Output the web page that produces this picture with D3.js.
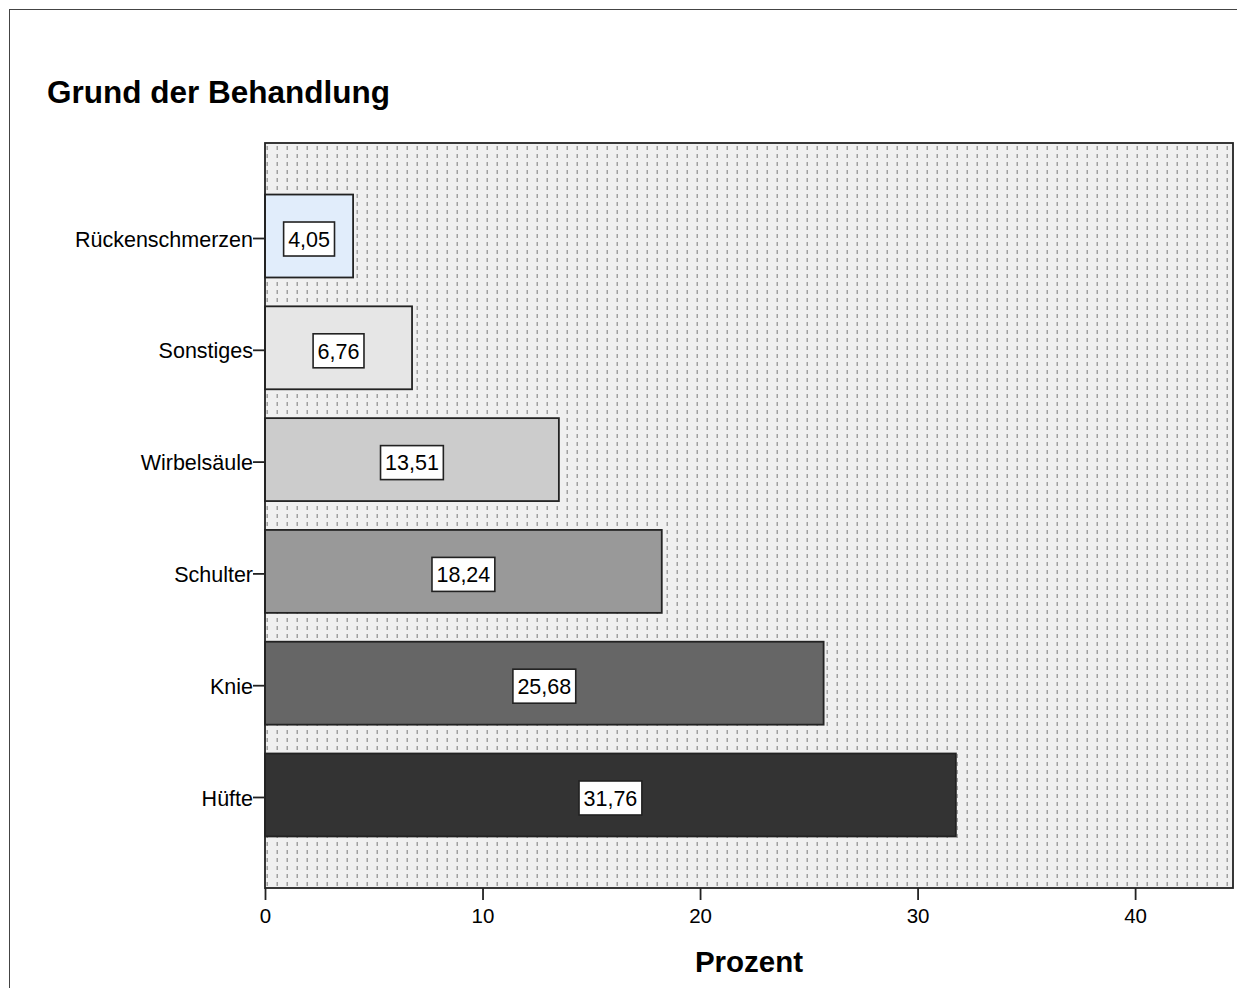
<!DOCTYPE html>
<html>
<head>
<meta charset="utf-8">
<script src="https://cdn.jsdelivr.net/npm/d3@7"></script>
<style>
  html, body { margin: 0; padding: 0; background: #fff; }
  svg { display: block; }
  text { font-family: "Liberation Sans", Arial, sans-serif; fill: #000; }
</style>
</head>
<body>
<svg id="chart" width="1237" height="988"></svg>
<script>
// Grund der Behandlung – Anteil in Prozent
const categories = ["Rückenschmerzen", "Sonstiges", "Wirbelsäule", "Schulter", "Knie", "Hüfte"];
const percentages = [4.05, 6.76, 13.51, 18.24, 25.68, 31.76];
const xTicks = [0, 10, 20, 30, 40];
const title = "Grund der Behandlung";
const xTitle = "Prozent";

// bar fills, one per category
const barFills = ["#e1edfb", "#e6e6e6", "#cccccc", "#999999", "#666666", "#333333"];

const W = 1237, H = 988;
const plot = { left: 265, right: 1233, top: 143, bottom: 888 };

const svg = d3.select("#chart");
const de = d3.formatLocale({ decimal: ",", thousands: ".", grouping: [3], currency: ["", " €"] });
const fmt = de.format(".2f");

// outer frame (continues past the right and bottom edges)
svg.append("rect")
  .attr("x", 9.5).attr("y", 9.5)
  .attr("width", W + 40).attr("height", H + 40)
  .attr("fill", "none").attr("stroke", "#444").attr("stroke-width", 1);

// dotted background pattern of the plot area
const defs = svg.append("defs");
const pat = defs.append("pattern")
  .attr("id", "dots")
  .attr("patternUnits", "userSpaceOnUse")
  .attr("x", plot.left).attr("y", plot.top + 2)
  .attr("width", 10).attr("height", 8);
pat.append("rect").attr("width", 10).attr("height", 8).attr("fill", "#f0f0f0");
pat.append("rect").attr("x", 1.5).attr("y", 1).attr("width", 1.5).attr("height", 4).attr("fill", "#a0a0a0");

const x = d3.scaleLinear().domain([0, 44.5]).range([plot.left, plot.right]);
const y = d3.scaleBand().domain(categories).range([plot.top, plot.bottom])
  .paddingInner(0.258).paddingOuter(0.461);
const color = d3.scaleOrdinal().domain(categories).range(barFills);

svg.append("rect")
  .attr("x", plot.left).attr("y", plot.top)
  .attr("width", plot.right - plot.left).attr("height", plot.bottom - plot.top)
  .attr("fill", "url(#dots)");

// bars
const rows = categories.map((c, i) => ({ cat: c, value: percentages[i] }));
svg.append("g").selectAll("rect").data(rows).join("rect")
  .attr("x", x(0))
  .attr("y", d => y(d.cat))
  .attr("width", d => x(d.value) - x(0))
  .attr("height", y.bandwidth())
  .attr("fill", d => color(d.cat))
  .attr("stroke", "#222")
  .attr("stroke-width", 1.8);

// plot border
svg.append("rect")
  .attr("x", plot.left).attr("y", plot.top)
  .attr("width", plot.right - plot.left).attr("height", plot.bottom - plot.top)
  .attr("fill", "none").attr("stroke", "#222").attr("stroke-width", 1.8);

// value labels in white boxes, sitting slightly below the bar centre
const lab = svg.append("g").selectAll("g").data(rows).join("g")
  .attr("transform", d => `translate(${(x(0) + x(d.value)) / 2},${y(d.cat) + y.bandwidth() / 2 + 3})`);
lab.append("text")
  .attr("text-anchor", "middle")
  .attr("dy", "0.36em")
  .style("font-size", "21.5px")
  .text(d => fmt(d.value))
  .each(function () {
    const b = this.getBBox();
    d3.select(this.parentNode).insert("rect", "text")
      .attr("x", b.x - 4.5).attr("y", -17)
      .attr("width", b.width + 9).attr("height", 34)
      .attr("fill", "#fff").attr("stroke", "#222").attr("stroke-width", 1.6);
  });

// y axis (ticks sit a little below the bar centre, like the labels)
const yAxis = svg.append("g")
  .attr("transform", `translate(${plot.left},2.5)`)
  .call(d3.axisLeft(y).tickSize(12).tickPadding(0));
yAxis.select(".domain").remove();
yAxis.selectAll(".tick line").attr("stroke", "#222").attr("stroke-width", 1.8);
yAxis.selectAll(".tick text").style("font-size", "21.5px").attr("fill", "#000").attr("dy", "0.38em");

// x axis
const xAxis = svg.append("g")
  .attr("transform", `translate(0,${plot.bottom})`)
  .call(d3.axisBottom(x).tickValues(xTicks).tickSize(12).tickPadding(8).tickFormat(d3.format("d")));
xAxis.select(".domain").remove();
xAxis.selectAll(".tick line").attr("stroke", "#222").attr("stroke-width", 1.8);
xAxis.selectAll(".tick text").style("font-size", "20.5px").attr("fill", "#000");

// titles
svg.append("text")
  .attr("x", 47).attr("y", 103)
  .style("font-size", "31.5px").style("font-weight", "bold")
  .text(title);

svg.append("text")
  .attr("x", (plot.left + plot.right) / 2).attr("y", 972)
  .attr("text-anchor", "middle")
  .style("font-size", "29.5px").style("font-weight", "bold")
  .text(xTitle);
</script>
</body>
</html>
